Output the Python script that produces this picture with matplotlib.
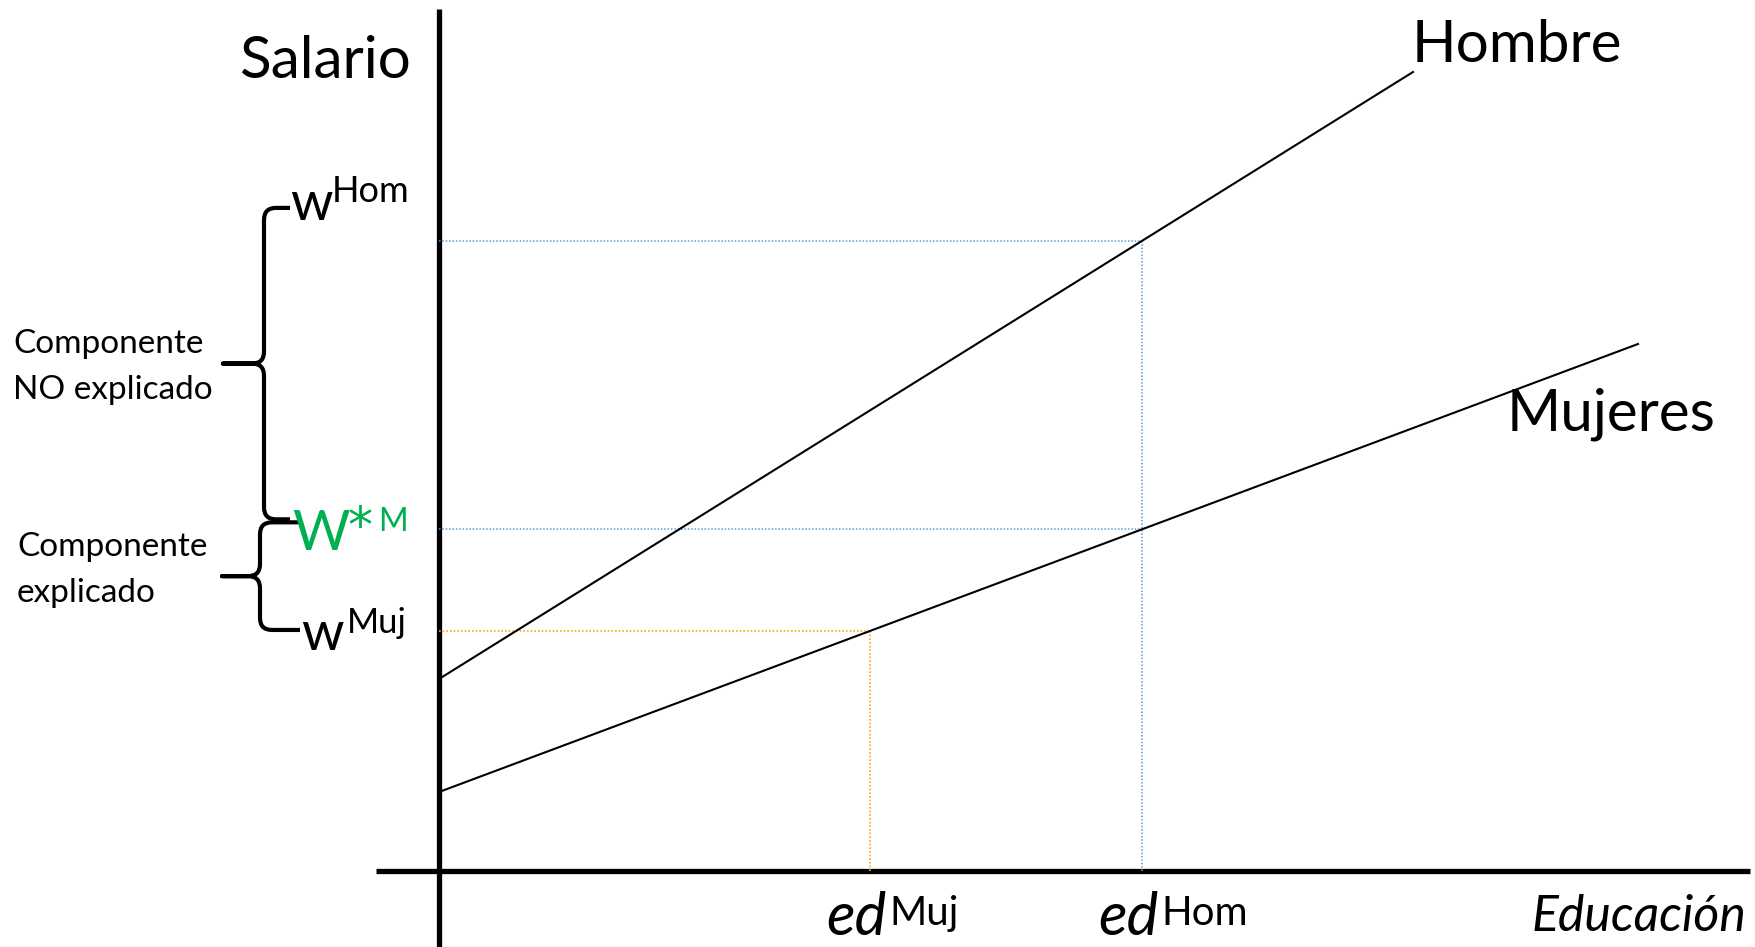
import numpy as np
import matplotlib
matplotlib.use('Agg')
import matplotlib.pyplot as plt
from matplotlib.path import Path
from matplotlib.patches import PathPatch

plt.rcParams['font.family'] = ['Lato', 'DejaVu Sans']

# salary lines (education, salary) in chart units
hombre_x = [0.0, 9.74]
hombre_y = [1.92, 7.99]
mujeres_x = [0.0, 11.99]
mujeres_y = [0.79, 5.27]

# mean education of each group
ed_muj = 4.31
ed_hom = 7.03

# wages
w_hom = np.interp(ed_hom, hombre_x, hombre_y)
w_star = np.interp(ed_hom, mujeres_x, mujeres_y)
w_muj = np.interp(ed_muj, mujeres_x, mujeres_y)

BLUE = '#5B9BD5'
ORANGE = '#FFA514'
GREEN = '#00B050'


def brace(ax, xs, xt, xp, y0, y1, r=0.12, lw=3.0):
    ym = (y0 + y1) / 2
    verts = [(xt, y1), (xs + r, y1), (xs, y1), (xs, y1 - r),
             (xs, ym + r), (xs, ym), (xs - r, ym), (xp, ym),
             (xs - r, ym), (xs, ym), (xs, ym - r),
             (xs, y0 + r), (xs, y0), (xs + r, y0), (xt, y0)]
    codes = [Path.MOVETO, Path.LINETO, Path.CURVE3, Path.CURVE3,
             Path.LINETO, Path.CURVE3, Path.CURVE3, Path.LINETO,
             Path.LINETO, Path.CURVE3, Path.CURVE3,
             Path.LINETO, Path.CURVE3, Path.CURVE3, Path.LINETO]
    ax.add_patch(PathPatch(Path(verts, codes), fill=False, lw=lw,
                           color='black', capstyle='butt', joinstyle='round'))


fig = plt.figure(figsize=(17.56, 9.47), dpi=100)
ax = fig.add_axes([0, 0, 1, 1])
ax.set_xlim(-4.39, 13.17)
ax.set_ylim(-0.76, 8.71)
ax.axis('off')

# axes
ax.plot([0, 0], [-0.76, 8.62], color='black', lw=3.8, solid_capstyle='butt')
ax.plot([-0.63, 13.11], [0, 0], color='black', lw=3.8, solid_capstyle='butt')

# guide lines
dots = (0, (1, 1.2))
ax.plot([0, ed_hom], [w_hom, w_hom], color=BLUE, lw=1.1, ls=dots)
ax.plot([0, ed_hom], [w_star, w_star], color=BLUE, lw=1.1, ls=dots)
ax.plot([ed_hom, ed_hom], [0, w_hom], color=BLUE, lw=1.1, ls=dots)
ax.plot([0, ed_muj], [w_muj, w_muj], color=ORANGE, lw=1.2, ls=dots)
ax.plot([ed_muj, ed_muj], [0, w_muj], color=ORANGE, lw=1.2, ls=dots)

# salary lines
ax.plot(hombre_x, hombre_y, color='black', lw=1.5)
ax.plot(mujeres_x, mujeres_y, color='black', lw=1.5)

ax.text(-0.28, 7.93, 'Salario', fontsize=42, ha='right', va='baseline')
ax.text(hombre_x[1] - 0.01, 8.09, 'Hombre', fontsize=42, va='baseline')
ax.text(10.68, 4.41, 'Mujeres', fontsize=42, va='baseline')

# wage labels on the salary axis
ax.text(-1.49, w_hom + 0.21, 'w', fontsize=39, va='baseline')
ax.text(-1.07, w_hom + 0.39, 'Hom', fontsize=26, va='baseline')
ax.text(-1.47, w_star - 0.21, 'W', fontsize=40, color=GREEN, va='baseline')
ax.text(-0.91, w_star - 0.13, '*', fontsize=36, color=GREEN, va='baseline',
        family='DejaVu Sans')
ax.text(-0.61, w_star - 0.02, 'M', fontsize=23, color=GREEN, va='baseline')
ax.text(-1.38, w_muj - 0.19, 'w', fontsize=39, va='baseline')
ax.text(-0.92, w_muj - 0.02, 'Muj', fontsize=25, va='baseline')

brace(ax, -1.75, -1.49, -2.16, w_star + 0.1, w_hom + 0.33)
brace(ax, -1.79, -1.39, -2.17, w_muj + 0.01, w_star + 0.07)

ax.text(-4.26, 4.72, 'Componente\nNO explicado', fontsize=24,
        va='baseline', linespacing=1.68)
ax.text(-4.22, 2.69, 'Componente\nexplicado', fontsize=24,
        va='baseline', linespacing=1.68)

# education labels
ax.text(ed_muj - 0.44, -0.64, 'ed', fontsize=43, style='italic', va='baseline')
ax.text(ed_muj + 0.19, -0.54, 'Muj', fontsize=29, va='baseline')
ax.text(ed_hom - 0.44, -0.64, 'ed', fontsize=43, style='italic', va='baseline')
ax.text(ed_hom + 0.19, -0.54, 'Hom', fontsize=29, va='baseline')
ax.text(13.07, -0.6, 'Educación', fontsize=36, style='italic',
        ha='right', va='baseline')

fig.savefig('out.png', dpi=100)
